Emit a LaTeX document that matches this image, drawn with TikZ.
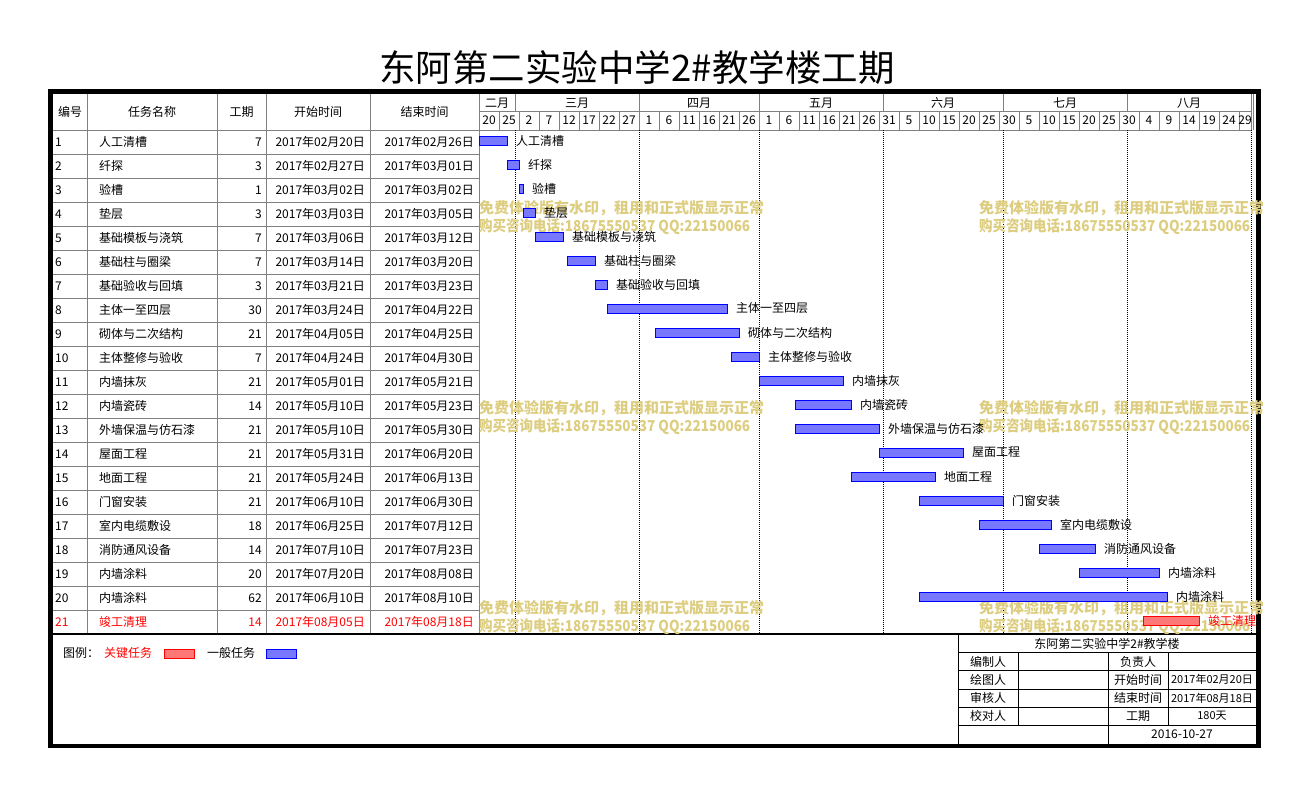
\documentclass[tikz,border=0pt]{standalone}
\usepackage{fontspec}
\usepackage{graphicx}
\setmainfont{Noto Sans CJK SC}
\usetikzlibrary{positioning}
\definecolor{griglia}{RGB}{128,128,128}
\definecolor{filigrana}{RGB}{221,205,128}
\definecolor{blubarra}{RGB}{120,120,255}
\definecolor{rossobarra}{RGB}{255,120,120}

\tikzset{
  testo/.style={font=\fontsize{12}{14}\selectfont, inner sep=0pt},
  piccolo/.style={font=\fontsize{11}{13}\selectfont, inner sep=0pt},
  linea/.style={draw=griglia, line width=1pt},
  nera/.style={draw=black, line width=1pt},
  punti/.style={line width=1pt, dash pattern=on 1pt off 1pt},
  barra black/.style={draw=blue, fill=blubarra, line width=1pt, inner sep=0pt, outer sep=0pt, minimum height=9pt},
  barra red/.style={draw=red, fill=rossobarra, line width=1pt, inner sep=0pt, outer sep=0pt, minimum height=9pt},
  marchio/.style={text=filigrana, font=\fontsize{15}{18}\selectfont\bfseries, inner sep=0pt, anchor=west},
}

\begin{document}
\begin{tikzpicture}[x=1pt,y=-1pt]
    \useasboundingbox (0,0) rectangle (1307,795);

    % Titolo
    \node[font=\fontsize{36.5}{42}\selectfont, inner sep=0pt] (titolo) at (637,68) {东阿第二实验中学2\#教学楼工期};

    % Righe e colonne della tabella
    \foreach \k in {1,...,20}
        \draw[linea] (53,130+24*\k) -- (479,130+24*\k);
    \foreach \cx in {87,217,266,370,479}
        \draw[linea] (\cx,94) -- (\cx,634);
    \draw[linea] (53,130) -- (1251,130);
    \draw[linea] (479,111) -- (1251,111);
    \draw[linea] (1251,94) -- (1251,130);
    \draw[linea] (1253,94) -- (1253,130);

    % Intestazione
    \node[testo] (hnum) at (70,112) {编号};
    \node[testo] (hnome) at (152,112) {任务名称};
    \node[testo] (hdur) at (241.5,112) {工期};
    \node[testo] (hini) at (318,112) {开始时间};
    \node[testo] (hfin) at (424.5,112) {结束时间};

    % Mesi
    \foreach \mx in {515,639,759,883,1003,1127}
        \draw[linea] (\mx,94) -- (\mx,111);
    \foreach \mese/\mx in {二月/497,三月/577,四月/699,五月/821,六月/943,七月/1065,八月/1189}
        \node[testo] (mese\mx) at (\mx,103) {\mese};

    % Giorni
    \foreach \k in {1,...,38}
        \draw[linea] (479+20*\k,111) -- (479+20*\k,130);
    \foreach \g [count=\k from 0] in {20,25,2,7,12,17,22,27,1,6,11,16,21,26,1,6,11,16,21,26,31,5,10,15,20,25,30,5,10,15,20,25,30,4,9,14,19,24,29}
    {
        \pgfmathsetmacro{\gx}{min(489+20*\k,1245)}
        \node[testo] (giorno\k) at (\gx,120.5) {\g};
    }

    % Linee dei mesi
    \foreach \mx in {515,639,759,883,1003,1127,1251}
        \draw[punti] (\mx,130) -- (\mx,634);

    % Cornice
    \draw[line width=4.6pt] (50.7,91.3) rectangle (1258.6,745.8);
    \draw[line width=2pt] (53,634) -- (1256,634);

    % Filigrana
    \begin{scope}
        \clip (479,190) rectangle (1262,640);
        \foreach \wx in {479,979}
            \foreach \wy in {208,408,608}
            {
                \node[marchio] (marchio\wx\wy) at (\wx,\wy) {免费体验版有水印，租用和正式版显示正常};
                \node[marchio] (telefono\wx\wy) at (\wx,\wy+18.5) {\scalebox{0.9}[1]{购买咨询电话:18675550537 QQ:22150066}};
            }
    \end{scope}

    % Attivita
    \foreach \n/\nome/\dur/\dini/\dfin/\off/\tinta in {
        1/人工清槽/7/2017年02月20日/2017年02月26日/0/black,
        2/纤探/3/2017年02月27日/2017年03月01日/7/black,
        3/验槽/1/2017年03月02日/2017年03月02日/10/black,
        4/垫层/3/2017年03月03日/2017年03月05日/11/black,
        5/基础模板与浇筑/7/2017年03月06日/2017年03月12日/14/black,
        6/基础柱与圈梁/7/2017年03月14日/2017年03月20日/22/black,
        7/基础验收与回填/3/2017年03月21日/2017年03月23日/29/black,
        8/主体一至四层/30/2017年03月24日/2017年04月22日/32/black,
        9/砌体与二次结构/21/2017年04月05日/2017年04月25日/44/black,
        10/主体整修与验收/7/2017年04月24日/2017年04月30日/63/black,
        11/内墙抹灰/21/2017年05月01日/2017年05月21日/70/black,
        12/内墙瓷砖/14/2017年05月10日/2017年05月23日/79/black,
        13/外墙保温与仿石漆/21/2017年05月10日/2017年05月30日/79/black,
        14/屋面工程/21/2017年05月31日/2017年06月20日/100/black,
        15/地面工程/21/2017年05月24日/2017年06月13日/93/black,
        16/门窗安装/21/2017年06月10日/2017年06月30日/110/black,
        17/室内电缆敷设/18/2017年06月25日/2017年07月12日/125/black,
        18/消防通风设备/14/2017年07月10日/2017年07月23日/140/black,
        19/内墙涂料/20/2017年07月20日/2017年08月08日/150/black,
        20/内墙涂料/62/2017年06月10日/2017年08月10日/110/black,
        21/竣工清理/14/2017年08月05日/2017年08月18日/166/red}
    {
        \pgfmathsetmacro{\yc}{118+24*\n}
        \pgfmathsetmacro{\xb}{479+4*\off}
        \pgfmathsetmacro{\lb}{4*\dur}
        \node[testo, anchor=west, text=\tinta] (num\n) at (55,\yc) {\n};
        \node[testo, anchor=west, text=\tinta] (nome\n) at (99,\yc) {\nome};
        \node[testo, anchor=east, text=\tinta] (dur\n) at (262,\yc) {\dur};
        \node[testo, anchor=east, text=\tinta] (ini\n) at (365,\yc) {\dini};
        \node[testo, anchor=east, text=\tinta] (fin\n) at (474,\yc) {\dfin};
        \node[barra \tinta, minimum width=\lb pt, anchor=west] (bar\n) at (\xb,\yc-1.5) {};
        \node[testo, text=\tinta, right=9pt of bar\n] (etichetta\n) {\nome};
    }

    % Legenda
    \node[testo, anchor=west] (legenda) at (63,653) {图例：};
    \node[testo, anchor=west, text=red] (critico) at (104,653) {关键任务};
    \node[barra red, minimum width=30pt, anchor=west] (camprosso) at (164,653.5) {};
    \node[testo, anchor=west] (generico) at (207,653) {一般任务};
    \node[barra black, minimum width=30pt, anchor=west] (campblu) at (266,653.5) {};

    % Cartiglio
    \draw[nera] (958,634) -- (958,744);
    \foreach \ry in {652.5,670.5,689,707,725}
        \draw[nera] (958,\ry) -- (1256,\ry);
    \draw[nera] (1018,652.5) -- (1018,725);
    \draw[nera] (1108,652.5) -- (1108,744);
    \draw[nera] (1168,652.5) -- (1168,725);
    \node[testo] (cartiglio) at (1107,643.5) {东阿第二实验中学2\#教学楼};
    \foreach \ruolo/\voce/\valore/\ry in {编制人/负责人//661.5, 绘图人/开始时间/2017年02月20日/679.7, 审核人/结束时间/2017年08月18日/698, 校对人/工期/180天/716}
    {
        \node[testo] (ruolo\ry) at (988,\ry) {\ruolo};
        \node[testo] (voce\ry) at (1138,\ry) {\voce};
        \node[piccolo] (valore\ry) at (1212,\ry) {\valore};
    }
    \node[testo] (data) at (1182,734) {2016-10-27};
\end{tikzpicture}
\end{document}
